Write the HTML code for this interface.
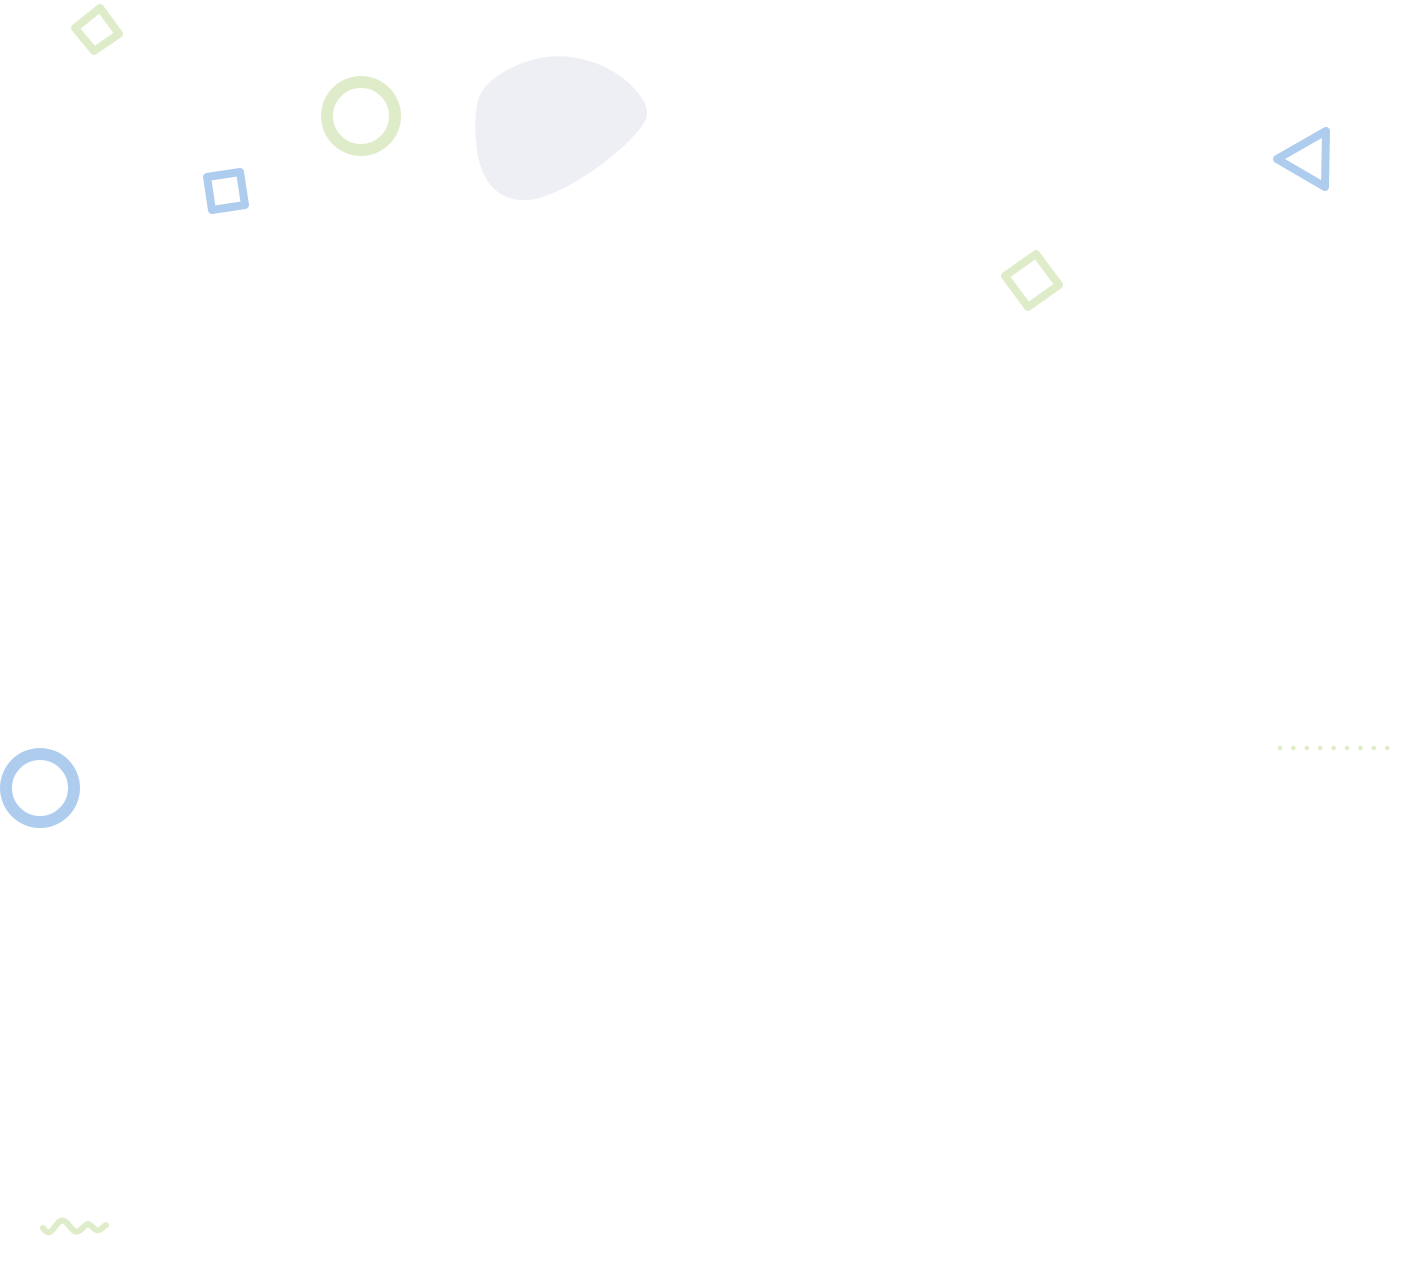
<!DOCTYPE html>
<html><head><meta charset="utf-8"><style>
html,body{margin:0;padding:0;background:#fff;width:1413px;height:1261px;overflow:hidden}
</style></head><body>
<svg width="1413" height="1261" viewBox="0 0 1413 1261" xmlns="http://www.w3.org/2000/svg">
<path d="M480,95 C490,75 520,62 540,58 C580,50 625,70 643,100 C652,115 645,124 630,140 C605,165 565,192 535,199 C510,204 490,192 482,170 C474,150 473,110 480,95 Z" fill="#eeeff4"/>
<g fill="none" stroke-linejoin="round" stroke-linecap="round">
<polygon points="75,28 100,8 119,34 94,51" stroke="#dfecc9" stroke-width="8"/>
<polygon points="207,177 240,172 245,205 212,210" stroke="#aecdee" stroke-width="8"/>
<circle cx="361" cy="116" r="34" stroke="#dfecc9" stroke-width="12"/>
<polygon points="1277,159 1326,131 1325,187" stroke="#aecdee" stroke-width="8"/>
<polygon points="1005,276 1036,254 1059,285 1028,307" stroke="#dfecc9" stroke-width="8"/>
<circle cx="40" cy="788" r="34" stroke="#aecdee" stroke-width="12"/>
<path d="M43,1228 C50,1238 53,1228 58,1223 C64,1216 69,1226 73,1230 C78,1235 83,1227 86,1225 C90,1221 94,1232 99,1230 C102,1229 104,1226 106,1225" stroke="#dfecc9" stroke-width="6"/>
<line x1="1280" y1="748" x2="1388" y2="748" stroke="#dfecc9" stroke-width="4.5" stroke-dasharray="0 13.4"/>
</g>
</svg>
</body></html>
